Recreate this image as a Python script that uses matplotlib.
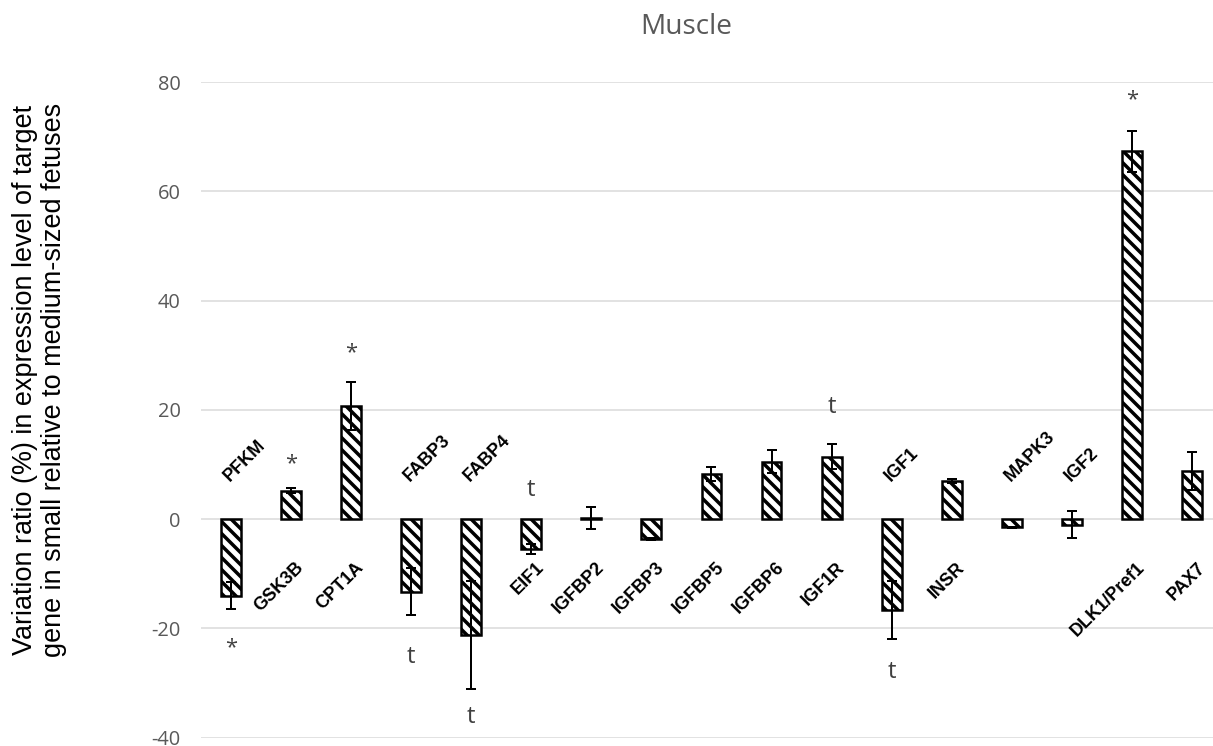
import numpy as np
import matplotlib
matplotlib.use('Agg')
import matplotlib.pyplot as plt

plt.rcParams['font.family'] = ['Open Sans', 'DejaVu Sans']
plt.rcParams['axes.unicode_minus'] = False
plt.rcParams['hatch.linewidth'] = 3.5
plt.rcParams['hatch.color'] = 'black'

# data (percent variation, small vs medium fetuses)
genes = ['PFKM', 'GSK3B', 'CPT1A', 'FABP3', 'FABP4', 'EIF1', 'IGFBP2', 'IGFBP3',
         'IGFBP5', 'IGFBP6', 'IGF1R', 'IGF1', 'INSR', 'MAPK3', 'IGF2',
         'DLK1/Pref1', 'PAX7']
values = [-14.0, 5.2, 20.7, -13.3, -21.2, -5.4, 0.2, -3.6,
          8.2, 10.5, 11.4, -16.6, 7.0, -1.5, -1.0, 67.3, 8.8]
errors = [2.5, 0.5, 4.4, 4.3, 9.8, 0.9, 2.0, 0.2,
          1.3, 2.1, 2.3, 5.3, 0.3, 0.1, 2.4, 3.7, 3.5]
# which side of the zero line the gene name sits on
label_up = [True, False, False, True, True, False, False, False,
            False, False, False, True, False, True, True, False, False]
# significance marks: (gene index, symbol, y value)
marks = [(0, '*', -23.5), (1, '*', 10.1), (2, '*', 30.4), (3, 't', -25.2),
         (4, 't', -36.3), (5, 't', 5.4), (10, 't', 20.5), (11, 't', -28.0),
         (15, '*', 76.7)]
yticks = [-40, -20, 0, 20, 40, 60, 80]

W, H = 1213, 746
fig = plt.figure(figsize=(W / 72, H / 72), dpi=72)
ax = fig.add_axes([200.6 / W, 8.3 / H, 1021.7 / W, 655.7 / H])

x = np.arange(len(genes))
ax.bar(x, values, width=0.33, color='white', edgecolor='black',
       linewidth=2.5, hatch='\\\\', zorder=3)
ax.errorbar(x, values, yerr=errors, fmt='none', ecolor='black',
            elinewidth=2, capsize=5, capthick=2, zorder=4)

for i, g in enumerate(genes):
    if label_up[i]:
        ax.text(i + 0.03, 6.3, g, rotation=45, rotation_mode='anchor',
                ha='left', va='bottom', fontsize=18, fontweight='bold',
                family='Liberation Sans', color='black')
    else:
        ax.text(i + 0.07, -7.3, g, rotation=45, rotation_mode='anchor',
                ha='right', va='top', fontsize=18, fontweight='bold',
                family='Liberation Sans', color='black')

for i, s, yv in marks:
    ax.text(i, yv, s, ha='center', va='center',
            fontsize=24 if s == 't' else 22, color='#404040')

ax.set_xlim(-0.5, 16.5)
ax.set_ylim(-40, 80)
ax.set_yticks(yticks)
ax.set_xticks([])
ax.yaxis.grid(True, color='#d9d9d9', linewidth=1.5, zorder=0)
ax.set_axisbelow(True)
for sp in ax.spines.values():
    sp.set_visible(False)
ax.tick_params(axis='y', length=0, pad=20, labelsize=20, labelcolor='#595959')

fig.text(686 / W, 1 - 27 / H, 'Muscle', ha='center', va='center',
         fontsize=28, color='#595959')
fig.text(40 / W, 1 - 380 / H,
         'Variation ratio (%) in expression level of target\n'
         'gene in small relative to medium-sized fetuses',
         rotation=90, ha='center', va='center', multialignment='center',
         fontsize=27, family='Liberation Sans', color='black', linespacing=1.15)

fig.savefig('out.png', dpi=72)
